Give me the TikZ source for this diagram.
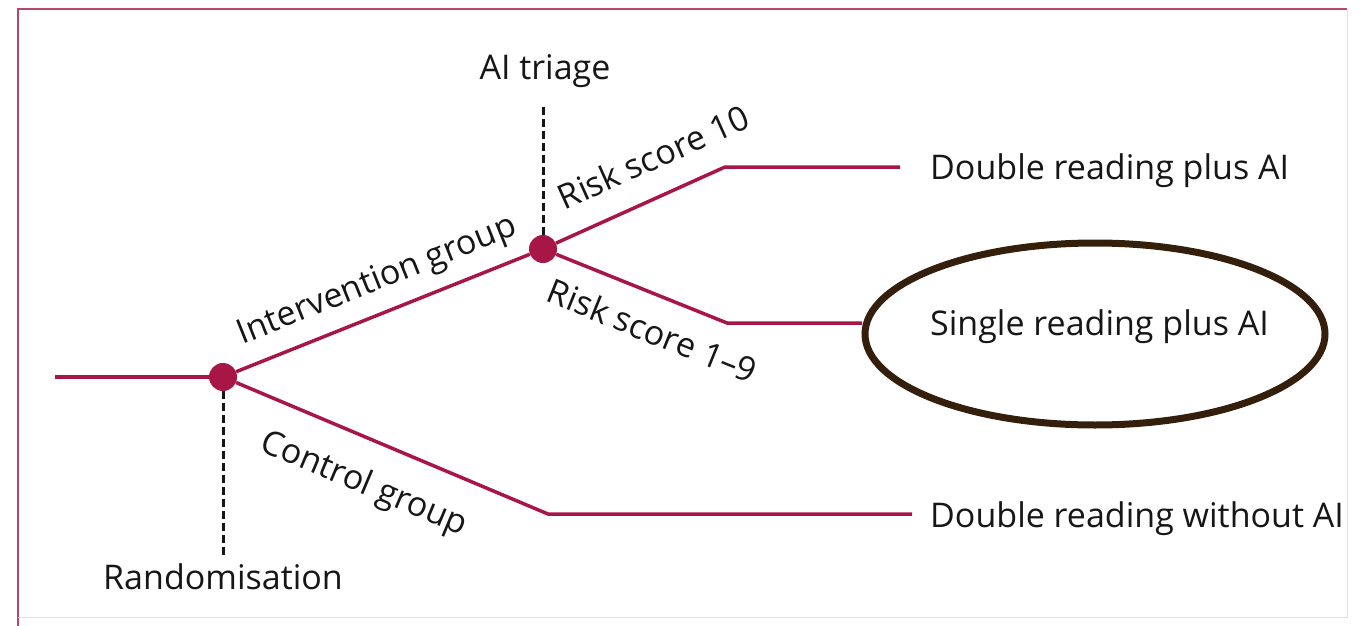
\documentclass[tikz,border=0pt]{standalone}
\usepackage{fontspec}
\setmainfont{Open Sans}
\usepackage{xcolor}
\usetikzlibrary{shapes.geometric}

\definecolor{lancetred}{RGB}{168,22,72}
\definecolor{inkgrey}{RGB}{22,22,22}
\definecolor{ringbrown}{RGB}{52,30,12}

\begin{document}
\begin{tikzpicture}[x=1pt,y=-1pt]
	%\draw[help lines] (0,0) grid (1363,626);
	\useasboundingbox (0,0) rectangle (1363,626);

	\tikzstyle{dnode} = [circle,fill=lancetred,inner sep=0pt,minimum size=28pt]
	\tikzstyle{tnode} = [text=inkgrey,inner sep=0pt,font=\fontsize{34}{40}\selectfont]
	\tikzstyle{slabel} = [tnode,sloped]
	\tikzstyle{branch} = [lancetred,line width=3.5pt,line join=round]
	\tikzstyle{dline} = [inkgrey,line width=3pt,dash pattern=on 8pt off 4pt]
	\tikzstyle{ring} = [ellipse,draw=ringbrown,line width=7pt,minimum width=460pt,minimum height=182pt]

	% frame
	\draw[lancetred!80,line width=2pt] (18,626) -- (18,9) -- (1347,9);
	\draw[black!12,line width=1pt] (1347,9) -- (1347,617) -- (18,617);

	\coordinate (in) at (55,377);
	\node[dnode] (rand) at (223,377) {};
	\node[dnode] (triage) at (543,249) {};

	\coordinate (b10) at (725,167);
	\coordinate (e10) at (900,167);
	\coordinate (b19) at (727,323);
	\coordinate (e19) at (862,323);
	\coordinate (bctl) at (548,514);
	\coordinate (ectl) at (912,514);

	\coordinate (rdash) at (223,555);
	\coordinate (tdash) at (543,107);

	\node[tnode,anchor=base] (randtxt) at (223,589) {Randomisation};
	\node[tnode,anchor=base] (triagetxt) at (545,79) {AI triage};

	\node[tnode,anchor=base west] (dbl) at (930,179) {Double reading plus AI};
	\node[tnode,anchor=base west] (sgl) at (930,335) {Single reading plus AI};
	\node[tnode,anchor=base west] (ctl) at (930,527) {Double reading without AI};

	\node[ring] (mark) at (1095,334) {};

	\draw[branch] (in) -- (rand);
	\draw[branch] (rand) -- node[slabel,above,inner sep=13pt,pos=0.52] {Intervention group} (triage);
	\draw[branch] (rand) -- node[slabel,below,inner sep=26pt,pos=0.465] {Control group} (bctl) -- (ectl);
	\draw[branch] (triage) -- node[slabel,above,inner sep=24pt,pos=0.67] {Risk score 10} (b10) -- (e10);
	\draw[branch] (triage) -- node[slabel,below,inner sep=20pt,pos=0.64] {Risk score 1--9} (b19) -- (e19);

	\draw[dline] (rand) -- (rdash);
	\draw[dline] (triage) -- (tdash);

\end{tikzpicture}
\end{document}
